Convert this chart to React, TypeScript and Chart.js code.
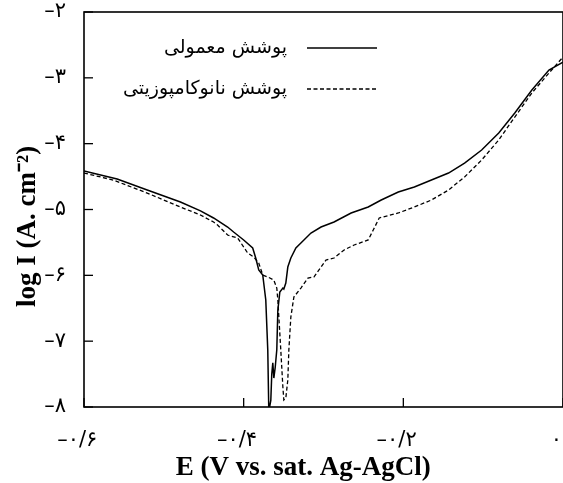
import React, { useEffect, useRef } from "react";
import { Chart, registerables } from "chart.js";

Chart.register(...registerables);

// ---- data ----
const seriesNames = ["پوشش معمولی", "پوشش نانوکامپوزیتی"];

const conventionalE = [
  -0.6, -0.5585, -0.5208, -0.4792, -0.4541, -0.4377, -0.4201, -0.4126, -0.4, -0.3887,
  -0.3849, -0.3811, -0.3761, -0.3723, -0.3698, -0.3686, -0.3675, -0.366, -0.3648, -0.3635,
  -0.3622, -0.3605, -0.3585, -0.3572, -0.3547, -0.3509, -0.3497, -0.3472, -0.3447, -0.3409,
  -0.3346, -0.3283, -0.3157, -0.3031, -0.2868, -0.2654, -0.244, -0.2277, -0.2063, -0.1862,
  -0.1648, -0.1434, -0.1233, -0.1019, -0.0805, -0.0604, -0.039, -0.0176, 0,
];
const conventionalLogI = [
  -4.415, -4.537, -4.704, -4.886, -5.02, -5.129, -5.266, -5.342, -5.463, -5.585,
  -5.737, -5.919, -5.995, -6.375, -7.134, -8.0, -8.0, -7.9, -7.5, -7.33,
  -7.56, -7.4, -7.13, -6.53, -6.253, -6.193, -6.208, -6.117, -5.874, -5.737,
  -5.585, -5.509, -5.357, -5.266, -5.19, -5.053, -4.962, -4.856, -4.734, -4.658,
  -4.552, -4.446, -4.294, -4.096, -3.838, -3.534, -3.185, -2.881, -2.76,
];

const nanoE = [
  -0.6, -0.5635, -0.5208, -0.4792, -0.4541, -0.4377, -0.4327, -0.4201, -0.4075, -0.395,
  -0.3874, -0.3811, -0.3761, -0.3698, -0.3623, -0.3585, -0.3572, -0.3535, -0.3509, -0.3497,
  -0.3472, -0.3447, -0.3434, -0.3409, -0.3371, -0.3283, -0.3195, -0.3119, -0.3031, -0.2969,
  -0.2868, -0.2742, -0.2616, -0.244, -0.2377, -0.2302, -0.2063, -0.1862, -0.1648, -0.1434,
  -0.1233, -0.1019, -0.0805, -0.0604, -0.039, -0.0176, 0,
];
const nanoLogI = [
  -4.446, -4.552, -4.75, -4.962, -5.084, -5.19, -5.236, -5.388, -5.433, -5.661,
  -5.722, -5.813, -5.995, -6.025, -6.071, -6.193, -6.375, -7.134, -7.696, -7.894,
  -7.864, -7.59, -7.134, -6.633, -6.329, -6.193, -6.041, -6.025, -5.874, -5.767,
  -5.737, -5.615, -5.539, -5.463, -5.312, -5.129, -5.053, -4.962, -4.856, -4.704,
  -4.506, -4.248, -3.944, -3.595, -3.23, -2.927, -2.684,
];

const xTickValues = [-0.6, -0.4, -0.2, 0];
const yTickValues = [-8, -7, -6, -5, -4, -3, -2];

const xTitle = "E (V vs. sat. Ag-AgCl)";
const yTitle = "log I (A. cm⁻²)";

const faDigits = "۰۱۲۳۴۵۶۷۸۹";
const toFa = (s: string) => s.replace(/\d/g, (d) => faDigits[+d]);

const fmtX = (v: number) => {
  const t = Math.round(v * 10);
  if (t === 0) return "۰";
  return "–۰/" + toFa(String(Math.abs(t)));
};
const fmtY = (v: number) => {
  const r = Math.round(v);
  if (r === 0) return "۰";
  return (r < 0 ? "–" : "") + toFa(String(Math.abs(r)));
};

const NB = "\u00a0";

const framePlugin = {
  id: "frameTicks",
  afterDatasetsDraw(chart: any) {
    const { ctx, chartArea } = chart;
    const { left, right, top, bottom } = chartArea;
    ctx.save();
    ctx.strokeStyle = "#000";
    ctx.lineWidth = 1.6;
    ctx.setLineDash([]);
    ctx.strokeRect(left, top, right - left, bottom - top);
    ctx.lineWidth = 1.3;
    const ys = chart.scales.y;
    ys.ticks.forEach((t: any) => {
      const p = ys.getPixelForValue(t.value);
      ctx.beginPath();
      ctx.moveTo(left, p);
      ctx.lineTo(left + 9, p);
      ctx.stroke();
    });
    const xs = chart.scales.x;
    xs.ticks.forEach((t: any) => {
      const p = xs.getPixelForValue(t.value);
      ctx.beginPath();
      ctx.moveTo(p, bottom);
      ctx.lineTo(p, bottom - 9);
      ctx.stroke();
    });
    ctx.restore();
  },
};

const legendPlugin = {
  id: "inlineLegend",
  afterDraw(chart: any) {
    const { ctx } = chart;
    const rows = [48, 89];
    chart.data.datasets.forEach((ds: any, i: number) => {
      const y = rows[i];
      ctx.save();
      ctx.fillStyle = "#000";
      ctx.font = '19px "DejaVu Sans"';
      ctx.textAlign = "right";
      ctx.textBaseline = "middle";
      ctx.fillText(ds.label, 287, y);
      ctx.strokeStyle = "#000";
      ctx.lineWidth = ds.borderWidth;
      ctx.setLineDash(ds.borderDash || []);
      ctx.beginPath();
      ctx.moveTo(307, y);
      ctx.lineTo(377, y);
      ctx.stroke();
      ctx.restore();
    });
  },
};

export default function App() {
  const ref = useRef<HTMLCanvasElement | null>(null);

  useEffect(() => {
    if (!ref.current) return;
    const chart = new Chart(ref.current, {
      type: "scatter",
      data: {
        datasets: [
          {
            label: seriesNames[0],
            data: conventionalE.map((e, i) => ({ x: e, y: conventionalLogI[i] })),
            showLine: true,
            borderColor: "#000",
            borderWidth: 1.5,
            pointRadius: 0,
            tension: 0,
          },
          {
            label: seriesNames[1],
            data: nanoE.map((e, i) => ({ x: e, y: nanoLogI[i] })),
            showLine: true,
            borderColor: "#000",
            borderWidth: 1.3,
            borderDash: [4, 2.5],
            pointRadius: 0,
            tension: 0,
          },
        ],
      },
      options: {
        animation: false,
        responsive: false,
        devicePixelRatio: 1,
        layout: { padding: { top: 12, right: 0, left: 0, bottom: 0 } },
        plugins: {
          legend: { display: false },
          tooltip: { enabled: false },
        },
        scales: {
          x: {
            type: "linear",
            min: -0.6,
            max: 0,
            afterBuildTicks: (s: any) => {
              s.ticks = xTickValues.map((v) => ({ value: v }));
            },
            afterFit: (s: any) => {
              s.height = 76;
              s.paddingLeft = 0;
              s.paddingRight = 0;
            },
            grid: { display: false, drawTicks: false },
            border: { display: false },
            ticks: {
              autoSkip: false,
              maxRotation: 0,
              color: "#000",
              padding: 21,
              font: { family: "DejaVu Sans", size: 21 },
              callback: (v: any) => fmtX(Number(v)) + NB + NB,
            },
            title: {
              display: true,
              text: xTitle + NB.repeat(6),
              color: "#000",
              font: { family: "Liberation Serif", size: 27, weight: "bold", lineHeight: 1.1 },
              padding: { top: 0, bottom: 0 },
            },
          },
          y: {
            type: "linear",
            min: -8,
            max: -2,
            afterBuildTicks: (s: any) => {
              s.ticks = yTickValues.map((v) => ({ value: v }));
            },
            afterFit: (s: any) => {
              s.width = 84;
              s.paddingTop = 0;
              s.paddingBottom = 0;
            },
            grid: { display: false, drawTicks: false },
            border: { display: false },
            ticks: {
              autoSkip: false,
              color: "#000",
              padding: 18,
              font: { family: "DejaVu Sans", size: 21 },
              callback: (v: any) => fmtY(Number(v)),
            },
            title: {
              display: true,
              text: yTitle + NB.repeat(5),
              color: "#000",
              font: { family: "Liberation Serif", size: 27, weight: "bold", lineHeight: 1.2 },
              padding: { top: 12, bottom: 0 },
            },
          },
        },
      },
      plugins: [framePlugin, legendPlugin],
    } as any);
    return () => chart.destroy();
  }, []);

  return (
    <div style={{ position: "fixed", left: 0, top: 0, width: 563, height: 483, background: "#fff" }}>
      <canvas ref={ref} width={563} height={483} style={{ display: "block" }} />
    </div>
  );
}
